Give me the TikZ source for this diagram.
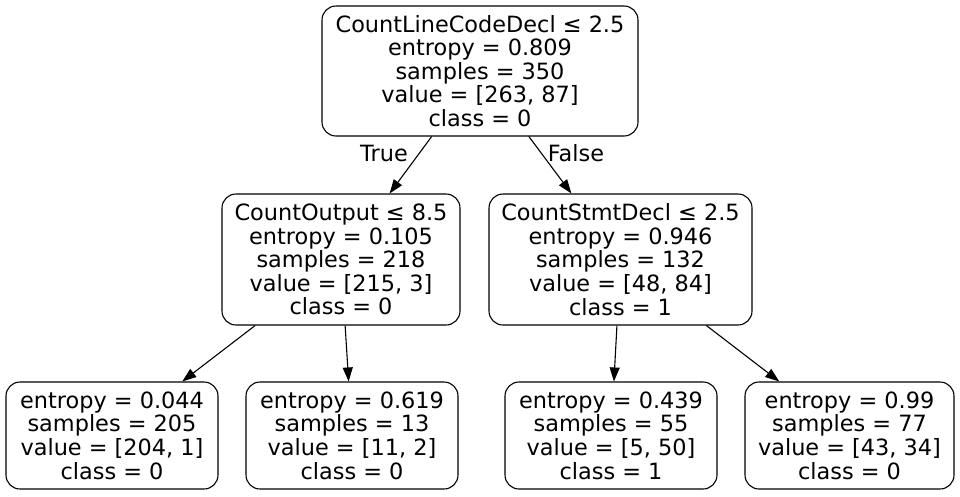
\documentclass[tikz,border=0pt]{standalone}
\usepackage{fontspec}
\setmainfont{DejaVu Sans}
\usetikzlibrary{arrows.meta}
\begin{document}
\begin{tikzpicture}[x=1pt,y=-1pt,
  treebox/.style={draw=black, line width=1.1pt, rounded corners=14pt, inner sep=0pt,
    align=center, font=\fontsize{22.4}{23.6}\selectfont},
  edgelbl/.style={inner sep=0pt, font=\fontsize{22.4}{23.6}\selectfont},
  conn/.style={draw=black, line width=1.1pt, -{Triangle[length=14pt,width=10pt]}}]
\useasboundingbox (0,0) rectangle (960,496);
\fill[white] (0,0) rectangle (960,496);
\node[treebox, minimum width=316pt, minimum height=130pt] (root) at (480,71)
  {CountLineCodeDecl ≤ 2.5\\entropy = 0.809\\samples = 350\\value = [263, 87]\\class = 0};
\node[treebox, minimum width=238pt, minimum height=131pt] (ml) at (341,259.5)
  {CountOutput ≤ 8.5\\entropy = 0.105\\samples = 218\\value = [215, 3]\\class = 0};
\node[treebox, minimum width=263pt, minimum height=131pt] (mr) at (620.5,259.5)
  {CountStmtDecl ≤ 2.5\\entropy = 0.946\\samples = 132\\value = [48, 84]\\class = 1};
\node[treebox, minimum width=212pt, minimum height=107pt] (l1) at (112,435.5)
  {entropy = 0.044\\samples = 205\\value = [204, 1]\\class = 0};
\node[treebox, minimum width=212pt, minimum height=107pt] (l2) at (352,435.5)
  {entropy = 0.619\\samples = 13\\value = [11, 2]\\class = 0};
\node[treebox, minimum width=212pt, minimum height=107pt] (l3) at (611,435.5)
  {entropy = 0.439\\samples = 55\\value = [5, 50]\\class = 1};
\node[treebox, minimum width=209pt, minimum height=107pt] (l4) at (849.5,435.5)
  {entropy = 0.99\\samples = 77\\value = [43, 34]\\class = 0};
\draw[conn] (root) -- (ml);
\draw[conn] (root) -- (mr);
\draw[conn] (ml) -- (l1);
\draw[conn] (ml) -- (l2);
\draw[conn] (mr) -- (l3);
\draw[conn] (mr) -- (l4);
\node[edgelbl, anchor=base] (truelbl) at (384,161) {True};
\node[edgelbl, anchor=base] (falselbl) at (576,161) {False};
\end{tikzpicture}
\end{document}
